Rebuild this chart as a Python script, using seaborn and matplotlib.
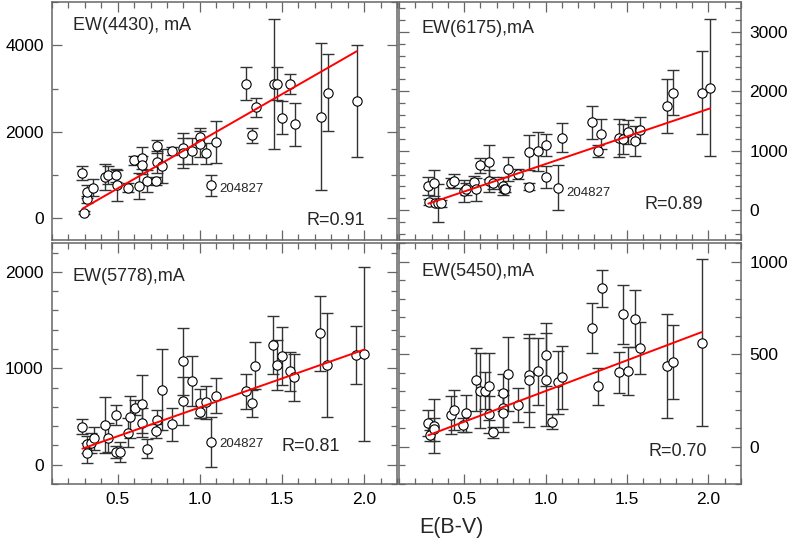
import matplotlib
matplotlib.use("Agg")
import matplotlib.pyplot as plt
import numpy as np
import pandas as pd
import seaborn as sns
from matplotlib.ticker import MultipleLocator

# --- Data: E(B-V), EW (mA), error ---
ebv_4430 = [0.285, 0.295, 0.31, 0.315, 0.35, 0.42, 0.44, 0.49, 0.495, 0.565,
            0.60, 0.63, 0.65, 0.65, 0.68, 0.73, 0.74, 0.74, 0.77, 0.83,
            0.90, 0.90, 0.95, 1.00, 1.00, 1.04, 1.07, 1.10, 1.28, 1.32,
            1.34, 1.45, 1.47, 1.50, 1.55, 1.58, 1.74, 1.78, 1.955]
ew_4430 = [1054, 130, 440, 615, 708, 962, 1000, 992, 760, 708,
           1338, 746, 1400, 1230, 860, 860, 1670, 1308, 1208, 1554,
           1615, 1515, 1554, 1885, 1708, 1500, 762, 1770, 3108, 1915,
           2570, 3108, 3108, 2323, 3108, 2170, 2346, 2908, 2708]
err_4430 = [160, 30, 80, 150, 200, 300, 200, 150, 350, 100,
            100, 300, 250, 200, 250, 100, 150, 250, 400, 100,
            350, 350, 300, 200, 300, 250, 250, 480, 380, 180,
            220, 1500, 380, 380, 230, 500, 1700, 900, 1300]

ebv_6175 = [0.28, 0.287, 0.312, 0.318, 0.338, 0.355, 0.42, 0.44, 0.50, 0.51,
            0.563, 0.573, 0.60, 0.65, 0.65, 0.676, 0.737, 0.743, 0.748, 0.772,
            0.833, 0.90, 0.90, 0.952, 1.003, 1.003, 1.075, 1.10, 1.283, 1.32,
            1.34, 1.453, 1.473, 1.504, 1.55, 1.582, 1.744, 1.78, 1.96, 2.01]
ew_6175 = [405, 139, 461, 117, 117, 117, 461, 489, 322, 350,
           472, 350, 755, 811, 489, 461, 405, 361, 350, 694,
           611, 972, 394, 989, 1100, 556, 378, 1222, 1478, 989,
           1278, 1222, 1194, 1311, 1167, 1350, 1756, 1978, 1978, 2061]
err_6175 = [150, 50, 220, 40, 320, 60, 80, 120, 180, 100,
            100, 200, 130, 280, 180, 100, 150, 50, 50, 200,
            80, 300, 60, 330, 180, 180, 380, 250, 280, 100,
            250, 320, 250, 200, 250, 220, 450, 380, 700, 1150]

ebv_5778 = [0.285, 0.31, 0.315, 0.335, 0.356, 0.423, 0.443, 0.492, 0.492, 0.514,
            0.565, 0.573, 0.604, 0.65, 0.65, 0.68, 0.732, 0.742, 0.772, 0.833,
            0.90, 0.90, 0.95, 1.00, 1.00, 1.04, 1.07, 1.10, 1.28, 1.317,
            1.337, 1.447, 1.467, 1.498, 1.549, 1.575, 1.734, 1.774, 1.951, 2.002]
ew_5778 = [394, 213, 122, 226, 272, 411, 282, 516, 132, 132,
           331, 498, 592, 627, 436, 167, 352, 463, 777, 418,
           1073, 662, 871, 638, 544, 648, 237, 718, 760, 638,
           1028, 1240, 1038, 1125, 969, 906, 1362, 1038, 1136, 1150]
err_5778 = [80, 90, 100, 100, 120, 290, 150, 100, 60, 100,
            150, 220, 80, 300, 150, 100, 70, 100, 420, 170,
            350, 250, 260, 150, 60, 170, 260, 180, 180, 140,
            240, 300, 260, 300, 200, 240, 390, 540, 300, 900]

ebv_5450 = [0.28, 0.293, 0.314, 0.314, 0.42, 0.44, 0.49, 0.51, 0.57, 0.60,
            0.63, 0.65, 0.65, 0.68, 0.737, 0.74, 0.74, 0.772, 0.833, 0.90,
            0.90, 0.952, 1.003, 1.003, 1.04, 1.075, 1.10, 1.283, 1.32, 1.345,
            1.453, 1.473, 1.504, 1.55, 1.582, 1.744, 1.78, 1.96]
ew_5450 = [127, 63, 112, 94, 172, 199, 118, 181, 362, 304,
           304, 326, 177, 78, 208, 293, 181, 395, 226, 389,
           359, 408, 498, 362, 136, 348, 375, 639, 326, 857,
           402, 716, 411, 692, 534, 435, 457, 562]
err_5450 = [70, 30, 145, 60, 100, 110, 40, 100, 170, 200,
            100, 180, 100, 30, 100, 100, 100, 200, 90, 200,
            250, 180, 170, 250, 40, 170, 170, 135, 100, 100,
            110, 160, 130, 155, 140, 280, 200, 450]

# linear fits as drawn (intercept, slope) and correlation coefficients
fit_4430, r_4430 = (-398, 2179), "R=0.91"
fit_6175, r_6175 = (-148, 925), "R=0.89"
fit_5778, r_5778 = (-4, 599), "R=0.81"
fit_5450, r_5450 = (-30, 331.5), "R=0.70"

sns.set_style("ticks")
plt.rcParams["font.family"] = ["Liberation Sans", "DejaVu Sans"]

fig = plt.figure(figsize=(7.93, 5.45), dpi=100)
W, H = 793, 545


def box(l, t, r, b):
    return [l / W, 1 - b / H, (r - l) / W, (b - t) / H]


panels = [
    dict(rect=box(52, 2, 397, 240), x=ebv_4430, y=ew_4430, e=err_4430, fit=fit_4430,
         r=r_4430, name="EW(4430), mA", ylim=(-500, 5000), major=2000, minor=1000,
         right=False, bottom=False, lab=(0.06, 0.90), rpos=(0.907, 0.084),
         note=(1.118, 685)),
    dict(rect=box(399, 2, 741, 240), x=ebv_6175, y=ew_6175, e=err_6175, fit=fit_6175,
         r=r_6175, name="EW(6175),mA", ylim=(-500, 3500), major=1000, minor=200,
         right=True, bottom=False, lab=(0.067, 0.89), rpos=(0.889, 0.15),
         note=(1.13, 283)),
    dict(rect=box(52, 243, 397, 484), x=ebv_5778, y=ew_5778, e=err_5778, fit=fit_5778,
         r=r_5778, name="EW(5778),mA", ylim=(-200, 2300), major=1000, minor=200,
         right=False, bottom=True, lab=(0.06, 0.86), rpos=(0.835, 0.155),
         note=(1.118, 220)),
    dict(rect=box(399, 243, 741, 484), x=ebv_5450, y=ew_5450, e=err_5450, fit=fit_5450,
         r=r_5450, name="EW(5450),mA", ylim=(-200, 1100), major=500, minor=100,
         right=True, bottom=True, lab=(0.067, 0.88), rpos=(0.90, 0.133),
         note=None),
]

for p in panels:
    ax = fig.add_axes(p["rect"])
    df = pd.DataFrame({"ebv": p["x"], "ew": p["y"], "err": p["e"]})

    ax.errorbar(df["ebv"], df["ew"], yerr=df["err"], fmt="none", ecolor="#333333",
                elinewidth=1.0, capsize=4.5, capthick=1.0, zorder=2)
    sns.scatterplot(data=df, x="ebv", y="ew", ax=ax, marker="o", s=45,
                    facecolor="white", edgecolor="black", linewidth=0.8, zorder=3)

    b0, b1 = p["fit"]
    xl = np.array([df["ebv"].min(), df["ebv"].max()])
    sns.lineplot(x=xl, y=b0 + b1 * xl, ax=ax, color="red", linewidth=1.4, zorder=4)

    ax.set_xlim(0.1, 2.2)
    ax.set_ylim(*p["ylim"])
    ax.xaxis.set_major_locator(MultipleLocator(0.5))
    ax.xaxis.set_minor_locator(MultipleLocator(0.1))
    ax.yaxis.set_major_locator(MultipleLocator(p["major"]))
    ax.yaxis.set_minor_locator(MultipleLocator(p["minor"]))
    ax.tick_params(which="major", direction="in", length=7, width=0.9, pad=6,
                   colors="#666666", labelcolor="black", labelsize=12.5,
                   top=True, right=True, bottom=True, left=True)
    ax.tick_params(which="minor", direction="in", length=4, width=0.9,
                   colors="#666666", top=True, right=True, bottom=True, left=True)
    if p["right"]:
        ax.tick_params(axis="y", which="both", labelleft=False, labelright=True)
    ax.tick_params(axis="x", which="both", labelbottom=p["bottom"])
    ax.set_xlabel("")
    ax.set_ylabel("")
    for s in ax.spines.values():
        s.set_color("#666666")
        s.set_linewidth(1.1)

    ax.text(*p["lab"], p["name"], transform=ax.transAxes, fontsize=13,
            ha="left", va="center")
    ax.text(*p["rpos"], p["r"], transform=ax.transAxes, fontsize=13,
            ha="right", va="center")
    if p["note"] is not None:
        ax.text(*p["note"], "204827", fontsize=9.5, ha="left", va="center")

fig.text(451 / W, 1 - 527 / H, "E(B-V)", fontsize=15.5, ha="center", va="center")

fig.savefig("out.png", dpi=100)
